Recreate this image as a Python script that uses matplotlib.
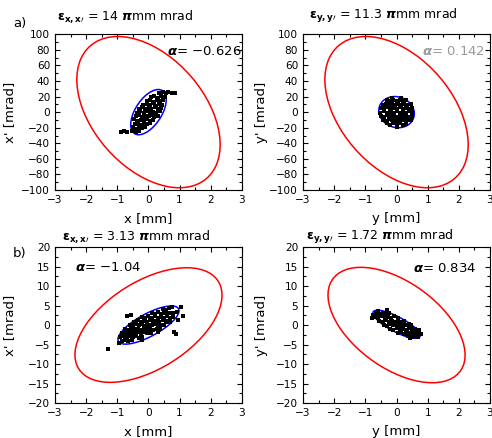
import numpy as np
import matplotlib.pyplot as plt
from matplotlib.patches import Ellipse
from matplotlib.ticker import MultipleLocator

plt.rcParams['font.family'] = ['DejaVu Sans']

# --- panel a) x-x' ---
emit_xx_a = "14"
alpha_xx_a = "\u22120.626"
red_xx_a = (0.0, 0.0, 2.3, 97.0, -0.43)     # cx, cy, xmax, ymax, corr
blue_xx_a = (0.0, 0.0, 0.57, 29.0, 0.55)
pts_xx_a = [(0.33, 24), (0.46, 26), (0.55, 24.5), (0.64, 25.5), (0.74, 24), (0.86, 25),
            (0.08, 19), (0.19, 21), (0.31, 18.5), (0.41, 20.5), (0.52, 19),
            (-0.04, 14), (0.06, 16), (0.17, 13.5), (0.26, 15.5), (0.36, 14), (0.47, 16),
            (-0.16, 9), (-0.06, 11), (0.04, 9.5), (0.14, 11.5), (0.23, 8.5), (0.34, 10.5), (0.44, 9),
            (-0.31, 4), (-0.2, 6), (-0.11, 4.5), (0.01, 5.5), (0.09, 3.5), (0.21, 6), (0.29, 4.5), (0.41, 5),
            (-0.36, -1), (-0.26, 1), (-0.14, -0.5), (-0.04, 1.5), (0.06, -1.5), (0.16, 0.5), (0.24, -1), (0.36, 1),
            (-0.41, -5.5), (-0.29, -4), (-0.21, -6), (-0.09, -4.5), (0.01, -5.5), (0.11, -4), (0.19, -6), (0.31, -4.5),
            (-0.46, -9), (-0.34, -11), (-0.24, -9.5), (-0.16, -10.5), (-0.04, -9), (0.06, -11), (0.14, -9.5),
            (-0.44, -15), (-0.36, -14), (-0.24, -16), (-0.14, -14.5), (-0.06, -15.5), (0.04, -14),
            (-0.51, -19), (-0.39, -21), (-0.29, -19.5), (-0.21, -20.5), (-0.11, -19),
            (-0.88, -26), (-0.78, -24), (-0.68, -25), (-0.52, -24.5), (-0.41, -26), (-0.3, -24)]

# --- panel a) y-y' ---
emit_yy_a = "11.3"
alpha_yy_a = "0.142"
red_yy_a = (0.0, 0.0, 2.3, 97.0, -0.43)
blue_yy_a = (0.0, 0.0, 0.57, 20.0, -0.1)
pts_yy_a = [(-0.3, 15.5), (-0.2, 14), (-0.1, 16), (0.0, 14.5), (0.1, 15.5), (0.2, 14), (0.3, 15),
            (-0.45, 9.5), (-0.35, 11), (-0.25, 9), (-0.15, 10.5), (-0.05, 9.5), (0.05, 11), (0.15, 9),
            (0.25, 10.5), (0.35, 9.5), (0.45, 10),
            (-0.5, 5.5), (-0.4, 4), (-0.3, 6), (-0.2, 4.5), (-0.1, 5.5), (0.0, 4), (0.1, 6), (0.2, 4.5),
            (0.3, 5.5), (0.4, 4), (0.5, 5),
            (-0.52, -0.5), (-0.41, 1), (-0.3, -1), (-0.19, 0.5), (-0.09, -0.5), (0.01, 1), (0.11, -1),
            (0.21, 0.5), (0.3, -0.5), (0.4, 1), (0.51, 0),
            (-0.5, -4.5), (-0.4, -6), (-0.3, -4), (-0.2, -5.5), (-0.1, -4.5), (0.0, -6), (0.1, -4),
            (0.2, -5.5), (0.3, -4.5), (0.4, -6), (0.49, -5),
            (-0.45, -9.5), (-0.35, -11), (-0.25, -9), (-0.15, -10.5), (-0.05, -9.5), (0.05, -11),
            (0.15, -9), (0.25, -10.5), (0.35, -9.5), (0.45, -10),
            (-0.3, -14.5), (-0.2, -16), (-0.1, -14), (0.0, -15.5), (0.1, -14.5), (0.2, -16), (0.3, -15),
            (-0.15, 18), (0.15, 18), (0.0, -18.5)]

# --- panel b) x-x' ---
emit_xx_b = "3.13"
alpha_xx_b = "\u22121.04"
red_xx_b = (0.0, 0.0, 2.36, 14.7, 0.52)
blue_xx_b = (0.0, 0.0, 0.98, 4.9, 0.75)
pts_xx_b = [(0.45, 4.2), (0.55, 3.8), (0.65, 4.3), (0.75, 4.5),
            (0.1, 3.2), (0.2, 2.8), (0.3, 3.3), (0.4, 2.9), (0.5, 3.2), (0.6, 2.8), (0.7, 3.1), (0.8, 3.0), (0.9, 3.4),
            (-0.2, 2.1), (-0.1, 1.8), (0.0, 2.2), (0.1, 1.9), (0.2, 2.2), (0.3, 1.8), (0.4, 2.1), (0.5, 1.9),
            (0.6, 2.2), (0.7, 1.8), (0.8, 2.1),
            (-0.45, 0.9), (-0.35, 1.2), (-0.25, 0.8), (-0.15, 1.1), (-0.05, 0.9), (0.05, 1.2), (0.15, 0.8),
            (0.25, 1.1), (0.35, 0.9), (0.45, 1.2), (0.55, 0.8), (0.62, 1.0), (0.7, 0.9),
            (-0.6, 0.1), (-0.5, -0.2), (-0.4, 0.2), (-0.3, -0.1), (-0.2, 0.2), (-0.1, -0.2), (0.0, 0.1),
            (0.1, -0.1), (0.2, 0.2), (0.3, -0.2), (0.4, 0.1), (0.5, -0.1),
            (-0.75, -0.9), (-0.65, -1.2), (-0.55, -0.8), (-0.45, -1.1), (-0.35, -0.9), (-0.25, -1.2),
            (-0.15, -0.8), (-0.05, -1.1), (0.05, -0.9), (0.15, -1.2), (0.28, -1.0), (0.38, -0.9),
            (-0.85, -2.1), (-0.75, -1.8), (-0.65, -2.2), (-0.55, -1.9), (-0.45, -2.1), (-0.35, -1.8),
            (-0.25, -2.2), (-0.15, -1.9), (-0.05, -2.1), (0.08, -2.0),
            (-0.9, -3.1), (-0.8, -2.8), (-0.7, -3.2), (-0.6, -2.9), (-0.5, -3.1), (-0.4, -2.8), (-0.3, -3.2), (-0.2, -3.0),
            (-0.85, -4.1), (-0.75, -3.8), (-0.65, -4.2), (-0.52, -3.9),
            (-1.3, -6.2), (1.05, 4.6), (1.1, 2.3), (0.82, -1.8), (0.88, -2.2), (-0.95, -4.6),
            (-0.55, 2.7), (-0.7, 2.4), (0.95, 1.3), (-0.2, -3.9), (0.3, -1.9)]

# --- panel b) y-y' ---
emit_yy_b = "1.72"
alpha_yy_b = "0.834"
red_yy_b = (0.0, 0.0, 2.2, 14.8, -0.52)
blue_yy_b = (0.0, 0.2, 0.76, 3.6, -0.8)
pts_yy_b = [(-0.65, 3.1), (-0.55, 2.8), (-0.45, 3.2), (-0.35, 2.9), (-0.25, 3.0),
            (-0.68, 2.1), (-0.58, 1.8), (-0.48, 2.2), (-0.38, 1.9), (-0.28, 2.1), (-0.18, 1.8), (-0.08, 2.2), (0.04, 1.9),
            (-0.55, 1.1), (-0.45, 0.8), (-0.35, 1.2), (-0.25, 0.9), (-0.15, 1.1), (-0.05, 0.8), (0.05, 1.2),
            (0.15, 0.9), (0.25, 1.0),
            (-0.4, 0.1), (-0.3, -0.2), (-0.2, 0.2), (-0.1, -0.1), (0.0, 0.2), (0.1, -0.2), (0.2, 0.1),
            (0.3, -0.1), (0.4, 0.2), (0.47, -0.1),
            (-0.2, -0.9), (-0.1, -1.2), (0.0, -0.8), (0.1, -1.1), (0.2, -0.9), (0.3, -1.2), (0.4, -0.8),
            (0.5, -1.1), (0.6, -0.9),
            (0.05, -2.1), (0.15, -1.8), (0.25, -2.2), (0.35, -1.9), (0.45, -2.1), (0.55, -1.8), (0.65, -2.0),
            (0.38, -2.9), (0.48, -3.1), (0.58, -2.8), (0.68, -3.0),
            (-0.75, 2.5), (0.78, -2.3), (-0.32, 3.8), (0.42, -3.4), (-0.8, 1.9), (0.72, -1.4), (-0.6, 3.5)]

panels = [
    ("x", emit_xx_a, alpha_xx_a, red_xx_a, blue_xx_a, pts_xx_a, 100, 20, "black", (0.60, 0.891), (0.010, 1.115)),
    ("y", emit_yy_a, alpha_yy_a, red_yy_a, blue_yy_a, pts_yy_a, 100, 20, "#9a9a9a", (0.636, 0.891), (0.032, 1.115)),
    ("x", emit_xx_b, alpha_xx_b, red_xx_b, blue_xx_b, pts_xx_b, 20, 5, "black", (0.107, 0.872), (0.037, 1.064)),
    ("y", emit_yy_b, alpha_yy_b, red_yy_b, blue_yy_b, pts_yy_b, 20, 5, "black", (0.588, 0.865), (0.016, 1.064)),
]

positions = [[0.1118, 0.566, 0.380, 0.356], [0.616, 0.566, 0.380, 0.356],
             [0.1118, 0.0799, 0.380, 0.356], [0.616, 0.0799, 0.380, 0.356]]


def ellipse_patch(params, color):
    cx, cy, xm, ym, r = params
    cov = np.array([[xm ** 2, r * xm * ym], [r * xm * ym, ym ** 2]])
    vals, vecs = np.linalg.eigh(cov)
    ang = np.degrees(np.arctan2(vecs[1, 1], vecs[0, 1]))
    return Ellipse((cx, cy), 2 * np.sqrt(vals[1]), 2 * np.sqrt(vals[0]), angle=ang,
                   fill=False, edgecolor=color, lw=1.1, zorder=2)


fig = plt.figure(figsize=(4.92, 4.38), dpi=100)

for pos, (v, emit, alph, red, blue, pts, ylim, ystep, acol, apos, tpos) in zip(positions, panels):
    ax = fig.add_axes(pos)
    ax.add_patch(ellipse_patch(red, "red"))
    ax.add_patch(ellipse_patch(blue, "blue"))
    px = [p[0] for p in pts]
    py = [p[1] for p in pts]
    ax.plot(px, py, "s", color="black", ms=2.4, mew=0, zorder=3)
    ax.set_xlim(-3, 3)
    ax.set_ylim(-ylim, ylim)
    ax.xaxis.set_major_locator(MultipleLocator(1))
    ax.xaxis.set_minor_locator(MultipleLocator(0.5))
    ax.yaxis.set_major_locator(MultipleLocator(ystep))
    ax.yaxis.set_minor_locator(MultipleLocator(ystep / 2))
    ax.tick_params(which="both", direction="in", top=True, right=True, labelsize=7.6, width=0.8)
    ax.tick_params(which="major", length=3.5)
    ax.tick_params(which="minor", length=2)
    for s in ax.spines.values():
        s.set_linewidth(0.8)
    ax.set_xlabel(v + " [mm]", fontsize=9.5)
    ax.set_ylabel(v + "' [mrad]", fontsize=9.5)
    ax.xaxis.set_label_coords(0.5, -0.14)
    ax.yaxis.set_label_coords(-0.21 if v == "x" else -0.19, 0.5)
    ax.text(tpos[0], tpos[1],
            r"$\boldsymbol{\varepsilon}_{\mathbf{" + v + "," + v + r"\prime}}$ = " + emit + r" $\boldsymbol{\pi}$mm mrad",
            transform=ax.transAxes, fontsize=9, va="center", ha="left")
    ax.text(apos[0], apos[1], r"$\boldsymbol{\alpha}$= " + alph, transform=ax.transAxes,
            fontsize=9.5, va="center", ha="left", color=acol)

fig.text(20 / 492, 1 - 23 / 438, "a)", fontsize=9.5, ha="center", va="center")
fig.text(20 / 492, 1 - 253 / 438, "b)", fontsize=9.5, ha="center", va="center")

fig.savefig("out.png", dpi=100)
